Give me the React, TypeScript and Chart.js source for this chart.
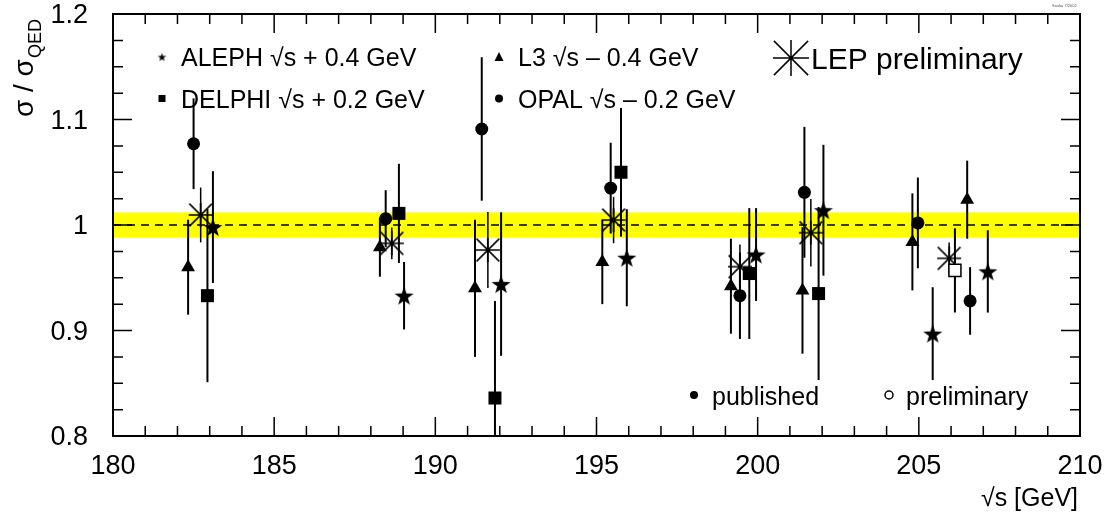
import React, { useEffect, useRef } from 'react';
import { Chart, registerables } from 'chart.js';

Chart.register(...registerables);

const FONT = '"Liberation Sans", Arial, Helvetica, sans-serif';

// ---- data (sqrt(s) [GeV], sigma/sigma_QED, error) ----
const ALEPH_X = [183.10, 189.03, 192.04, 195.94, 199.95, 202.04, 205.43, 207.14];
const ALEPH_Y = [0.998, 0.933, 0.944, 0.969, 0.972, 1.014, 0.897, 0.956];
const ALEPH_E = [0.053, 0.032, 0.068, 0.046, 0.044, 0.062, 0.044, 0.039];

const DELPHI_X = [182.93, 188.87, 191.85, 195.76, 199.74, 201.89];
const DELPHI_Y = [0.933, 1.011, 0.836, 1.050, 0.954, 0.935];
const DELPHI_E = [0.082, 0.047, 0.092, 0.061, 0.062, 0.082];

const DELPHI_PRELIM_X = [206.12];
const DELPHI_PRELIM_Y = [0.957];
const DELPHI_PRELIM_E = [0.040];

const L3_X = [182.33, 188.28, 191.23, 195.18, 199.17, 201.39, 204.80, 206.50];
const L3_Y = [0.960, 0.979, 0.940, 0.965, 0.942, 0.938, 0.984, 1.024];
const L3_E = [0.045, 0.028, 0.065, 0.040, 0.045, 0.060, 0.046, 0.037];

const OPAL_X = [182.50, 188.46, 191.44, 195.44, 199.45, 201.45, 204.97, 206.59];
const OPAL_Y = [1.077, 1.006, 1.091, 1.035, 0.933, 1.031, 1.002, 0.928];
const OPAL_E = [0.043, 0.027, 0.068, 0.043, 0.041, 0.062, 0.043, 0.032];

const LEP_X = [182.72, 188.65, 191.63, 195.53, 199.45, 201.65, 205.94];
const LEP_Y = [1.0095, 0.9826, 0.9763, 1.0047, 0.9605, 0.9927, 0.9684];
const LEP_E = [0.026, 0.015, 0.036, 0.022, 0.021, 0.032, 0.015];

const BAND_CENTER = 1.0;
const BAND_HALF_WIDTH = 0.012;

const X_TICKS = [180, 185, 190, 195, 200, 205, 210];
const X_TICK_LABELS = ['180', '185', '190', '195', '200', '205', '210'];
const Y_TICKS = [0.8, 0.9, 1.0, 1.1, 1.2];
const Y_TICK_LABELS = ['0.8', '0.9', '1', '1.1', '1.2'];

const LEGEND_LABELS = [
  'ALEPH \u221As + 0.4 GeV',
  'DELPHI \u221As + 0.2 GeV',
  'L3 \u221As \u2013 0.4 GeV',
  'OPAL \u221As \u2013 0.2 GeV',
  'LEP preliminary',
  'published',
  'preliminary',
];

function zip(xs: number[], ys: number[]) {
  return xs.map((x, i) => ({ x, y: ys[i] }));
}

function makeStar(r: number): HTMLCanvasElement {
  const size = Math.ceil(2 * r + 2);
  const c = document.createElement('canvas');
  c.width = size;
  c.height = size;
  const g = c.getContext('2d')!;
  const cx = size / 2;
  const cy = size / 2 + r * 0.1;
  const inner = r * 0.4;
  g.beginPath();
  for (let i = 0; i < 10; i++) {
    const rr = i % 2 === 0 ? r : inner;
    const a = -Math.PI / 2 + (i * Math.PI) / 5;
    const px = cx + rr * Math.cos(a);
    const py = cy + rr * Math.sin(a);
    if (i === 0) g.moveTo(px, py);
    else g.lineTo(px, py);
  }
  g.closePath();
  g.fillStyle = '#000';
  g.fill();
  return c;
}

function makeAsterisk(r: number, lw: number): HTMLCanvasElement {
  const size = Math.ceil(2 * r + 2);
  const c = document.createElement('canvas');
  c.width = size;
  c.height = size;
  const g = c.getContext('2d')!;
  const cx = size / 2;
  const cy = size / 2;
  g.strokeStyle = '#000';
  g.lineWidth = lw;
  g.beginPath();
  g.moveTo(cx - r, cy);
  g.lineTo(cx + r, cy);
  g.moveTo(cx, cy - r);
  g.lineTo(cx, cy + r);
  const d = r * 0.95;
  g.moveTo(cx - d, cy - d);
  g.lineTo(cx + d, cy + d);
  g.moveTo(cx - d, cy + d);
  g.lineTo(cx + d, cy - d);
  g.stroke();
  return c;
}

const errorBarPlugin = {
  id: 'errorBars',
  beforeDatasetsDraw(chart: any) {
    const { ctx, chartArea, scales } = chart;
    const ys = scales.y;
    ctx.save();
    ctx.beginPath();
    ctx.rect(chartArea.left, chartArea.top, chartArea.right - chartArea.left, chartArea.bottom - chartArea.top);
    ctx.clip();
    // yellow band
    const bt = ys.getPixelForValue(BAND_CENTER + BAND_HALF_WIDTH);
    const bb = ys.getPixelForValue(BAND_CENTER - BAND_HALF_WIDTH);
    ctx.fillStyle = '#ffff00';
    ctx.fillRect(chartArea.left, bt, chartArea.right - chartArea.left, bb - bt);
    // dashed line
    const y1 = ys.getPixelForValue(BAND_CENTER);
    ctx.strokeStyle = '#000';
    ctx.lineWidth = 1.5;
    ctx.setLineDash([8, 6]);
    ctx.beginPath();
    ctx.moveTo(chartArea.left, y1);
    ctx.lineTo(chartArea.right, y1);
    ctx.stroke();
    ctx.setLineDash([]);
    // error bars
    chart.data.datasets.forEach((ds: any, di: number) => {
      const meta = chart.getDatasetMeta(di);
      const errs: number[] = ds.errors || [];
      ctx.lineWidth = ds.errLineWidth || 2;
      ctx.strokeStyle = '#000';
      ds.data.forEach((pt: any, i: number) => {
        const el = meta.data[i];
        if (!el) return;
        const px = el.x;
        const top = ys.getPixelForValue(pt.y + errs[i]);
        const bot = ys.getPixelForValue(pt.y - errs[i]);
        const gap = ds.errGap || 0;
        ctx.beginPath();
        if (gap > 0) {
          ctx.moveTo(px, top);
          ctx.lineTo(px, el.y - gap);
          ctx.moveTo(px, el.y + gap);
          ctx.lineTo(px, bot);
        } else {
          ctx.moveTo(px, top);
          ctx.lineTo(px, bot);
        }
        ctx.stroke();
      });
    });
    ctx.restore();
  },
};

function drawRotatedTitle(ctx: CanvasRenderingContext2D) {
  ctx.save();
  ctx.translate(33, 117);
  ctx.rotate(-Math.PI / 2);
  ctx.fillStyle = '#000';
  ctx.textAlign = 'left';
  ctx.textBaseline = 'alphabetic';
  ctx.font = `28px ${FONT}`;
  const main = '\u03C3 / \u03C3';
  ctx.fillText(main, 0, 0);
  const w = ctx.measureText(main).width;
  ctx.font = `18px ${FONT}`;
  ctx.fillText('QED', w + 1, 8);
  ctx.restore();
}

function makeFramePlugin(star: HTMLCanvasElement, ast: HTMLCanvasElement) {
  return {
    id: 'frameAndLegend',
    afterDraw(chart: any) {
      const { ctx, chartArea, scales } = chart;
      const xs = scales.x;
      const ys = scales.y;
      const { left, right, top, bottom } = chartArea;
      ctx.save();
      ctx.strokeStyle = '#000';
      ctx.lineWidth = 2;
      ctx.strokeRect(left, top, right - left, bottom - top);
      // ticks
      ctx.lineWidth = 1.5;
      ctx.beginPath();
      for (let v = 180; v <= 210; v++) {
        const px = xs.getPixelForValue(v);
        const len = v % 5 === 0 ? 19 : 10;
        ctx.moveTo(px, bottom);
        ctx.lineTo(px, bottom - len);
        ctx.moveTo(px, top);
        ctx.lineTo(px, top + len);
      }
      for (let i = 0; i <= 16; i++) {
        const v = 0.8 + i * 0.025;
        const py = ys.getPixelForValue(v);
        const len = i % 4 === 0 ? 19 : 10;
        ctx.moveTo(left, py);
        ctx.lineTo(left + len, py);
        ctx.moveTo(right, py);
        ctx.lineTo(right - len, py);
      }
      ctx.stroke();

      // legend
      ctx.fillStyle = '#000';
      ctx.drawImage(star, 162 - star.width / 2, 57 - star.height / 2);
      ctx.fillRect(158.5, 95, 7, 7);
      ctx.beginPath();
      ctx.moveTo(499, 52);
      ctx.lineTo(503.5, 61);
      ctx.lineTo(494.5, 61);
      ctx.closePath();
      ctx.fill();
      ctx.beginPath();
      ctx.arc(499, 98.5, 4, 0, Math.PI * 2);
      ctx.fill();
      ctx.drawImage(ast, 791 - ast.width / 2, 58 - ast.height / 2);

      ctx.textAlign = 'left';
      ctx.textBaseline = 'alphabetic';
      ctx.font = `25px ${FONT}`;
      ctx.fillText(LEGEND_LABELS[0], 181, 66);
      ctx.fillText(LEGEND_LABELS[1], 181, 108);
      ctx.fillText(LEGEND_LABELS[2], 518, 66);
      ctx.fillText(LEGEND_LABELS[3], 518, 108);
      ctx.font = `30px ${FONT}`;
      ctx.fillText(LEGEND_LABELS[4], 811, 69);

      ctx.font = `25px ${FONT}`;
      ctx.beginPath();
      ctx.arc(694, 395, 4, 0, Math.PI * 2);
      ctx.fill();
      ctx.fillText(LEGEND_LABELS[5], 712, 405);
      ctx.beginPath();
      ctx.lineWidth = 1.5;
      ctx.arc(889, 395, 4, 0, Math.PI * 2);
      ctx.stroke();
      ctx.fillText(LEGEND_LABELS[6], 906, 405);

      // axis titles
      ctx.textAlign = 'right';
      ctx.font = `25px ${FONT}`;
      ctx.fillText('\u221As [GeV]', 1078, 506);
      drawRotatedTitle(ctx);

      ctx.font = `4px ${FONT}`;
      ctx.fillStyle = '#555';
      ctx.textAlign = 'left';
      ctx.fillText('Sasha 7/2002', 1052, 7);
      ctx.restore();
    },
  };
}

export default function App() {
  const ref = useRef<HTMLCanvasElement | null>(null);

  useEffect(() => {
    if (!ref.current) return;
    const bigStar = makeStar(10);
    const smallStar = makeStar(4.5);
    const asterisk = makeAsterisk(12, 1.5);
    const bigAsterisk = makeAsterisk(18, 1.5);

    const chart = new Chart(ref.current, {
      type: 'scatter',
      data: {
        datasets: [
          {
            label: 'L3',
            data: zip(L3_X, L3_Y),
            errors: L3_E,
            pointStyle: 'triangle',
            pointRadius: 8,
            backgroundColor: '#000',
            borderColor: '#000',
            borderWidth: 0,
          } as any,
          {
            label: 'OPAL',
            data: zip(OPAL_X, OPAL_Y),
            errors: OPAL_E,
            pointStyle: 'circle',
            pointRadius: 6.5,
            backgroundColor: '#000',
            borderColor: '#000',
            borderWidth: 0,
          } as any,
          {
            label: 'DELPHI',
            data: zip(DELPHI_X, DELPHI_Y),
            errors: DELPHI_E,
            pointStyle: 'rect',
            pointRadius: 9.2,
            backgroundColor: '#000',
            borderColor: '#000',
            borderWidth: 0,
          } as any,
          {
            label: 'DELPHI preliminary',
            data: zip(DELPHI_PRELIM_X, DELPHI_PRELIM_Y),
            errors: DELPHI_PRELIM_E,
            errGap: 6.5,
            pointStyle: 'rect',
            pointRadius: 8.5,
            backgroundColor: '#fff',
            borderColor: '#000',
            borderWidth: 1.5,
          } as any,
          {
            label: 'ALEPH',
            data: zip(ALEPH_X, ALEPH_Y),
            errors: ALEPH_E,
            pointStyle: bigStar,
            pointRadius: 10,
            backgroundColor: '#000',
            borderColor: '#000',
          } as any,
          {
            label: 'LEP',
            data: zip(LEP_X, LEP_Y),
            errors: LEP_E,
            errLineWidth: 1.5,
            pointStyle: asterisk,
            pointRadius: 12,
            backgroundColor: '#000',
            borderColor: '#000',
          } as any,
        ],
      },
      options: {
        animation: false,
        responsive: false,
        devicePixelRatio: 1,
        layout: { padding: { left: 0, right: 28, top: 14, bottom: 0 } },
        plugins: {
          legend: { display: false },
          tooltip: { enabled: false },
        },
        scales: {
          x: {
            type: 'linear',
            min: 180,
            max: 210,
            grid: { display: false, drawTicks: false },
            border: { display: false },
            afterFit: (s: any) => {
              s.height = 76;
              s.paddingLeft = 0;
              s.paddingRight = 0;
              s.paddingTop = 0;
              s.paddingBottom = 0;
            },
            afterBuildTicks: (s: any) => {
              s.ticks = X_TICKS.map((v) => ({ value: v }));
            },
            ticks: {
              autoSkip: false,
              maxRotation: 0,
              padding: 14,
              color: '#000',
              font: { family: FONT, size: 27 },
              callback: (v: any) => {
                const i = X_TICKS.indexOf(Number(v));
                return i >= 0 ? X_TICK_LABELS[i] : '';
              },
            },
          },
          y: {
            type: 'linear',
            min: 0.8,
            max: 1.2,
            grid: { display: false, drawTicks: false },
            border: { display: false },
            afterFit: (s: any) => {
              s.width = 113;
              s.paddingLeft = 0;
              s.paddingRight = 0;
              s.paddingTop = 0;
              s.paddingBottom = 0;
            },
            afterBuildTicks: (s: any) => {
              s.ticks = Y_TICKS.map((v) => ({ value: v }));
            },
            ticks: {
              autoSkip: false,
              padding: 25,
              labelOffset: 2,
              color: '#000',
              font: { family: FONT, size: 27 },
              callback: (v: any) => {
                const i = Y_TICKS.findIndex((t) => Math.abs(t - Number(v)) < 1e-9);
                return i >= 0 ? Y_TICK_LABELS[i] : '';
              },
            },
          },
        },
      } as any,
      plugins: [errorBarPlugin, makeFramePlugin(smallStar, bigAsterisk)],
    });

    return () => {
      chart.destroy();
    };
  }, []);

  return (
    <div style={{ position: 'fixed', left: 0, top: 0, width: 1108, height: 512, background: '#fff' }}>
      <canvas ref={ref} width={1108} height={512} style={{ display: 'block' }} />
    </div>
  );
}
